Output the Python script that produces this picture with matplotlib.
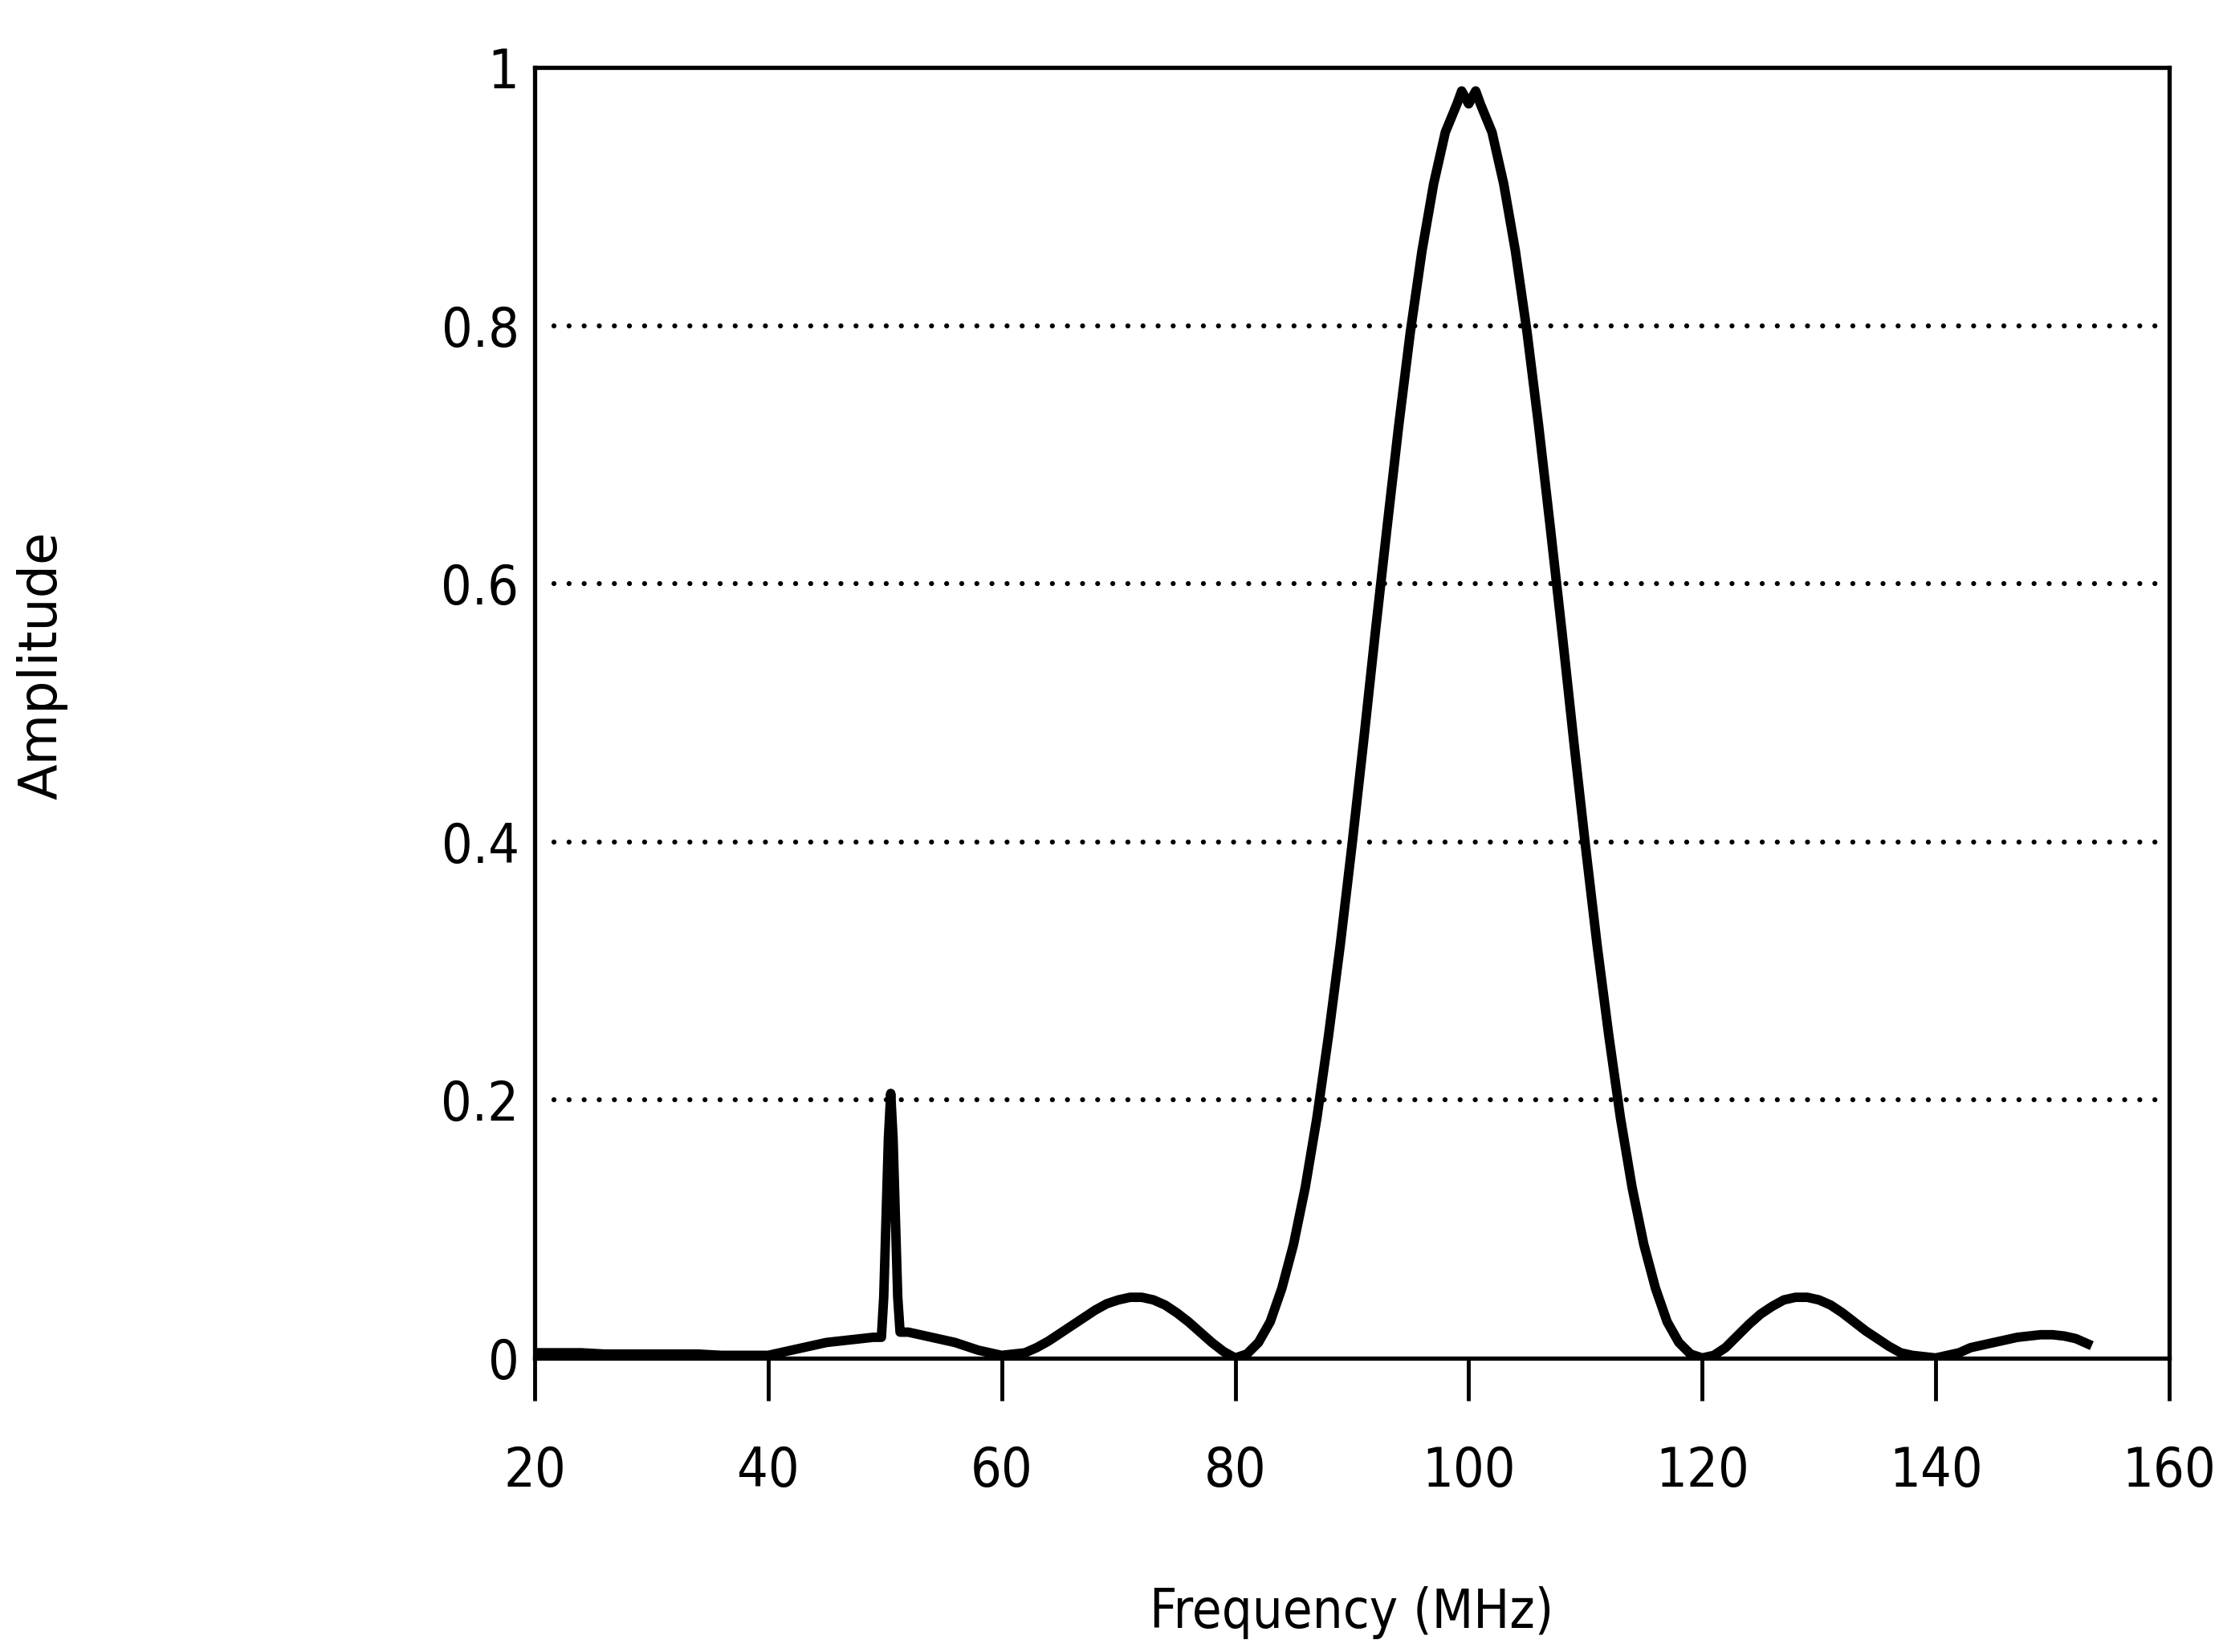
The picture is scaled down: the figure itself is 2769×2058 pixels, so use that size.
import matplotlib
matplotlib.use('Agg')
import matplotlib.pyplot as plt

# values
freq = [20, 22, 24, 26, 28, 30, 32, 34, 36, 38, 40,
        41, 42, 43, 44, 45, 46, 47, 48, 49, 49.7,
        49.9, 50.1, 50.3, 50.5, 50.7, 50.9, 51.1, 51.3,
        52, 53, 54, 55, 56, 57, 58, 59, 60,
        61, 62, 63, 64, 65, 66, 67, 68, 69, 70,
        71, 72, 73, 74, 75, 76, 77, 78, 79, 80,
        81, 82, 83, 84, 85, 86, 87, 88, 89, 90,
        91, 92, 93, 94, 95, 96, 97, 98, 99, 99.4,
        100, 100.6, 101, 102, 103, 104, 105, 106, 107, 108,
        109, 110, 111, 112, 113, 114, 115, 116, 117, 118,
        119, 120, 121, 122, 123, 124, 125, 126, 127, 128,
        129, 130, 131, 132, 133, 134, 135, 136, 137, 138,
        139, 140, 141, 142, 143, 144, 145, 146, 147, 148,
        149, 150, 151, 152, 153]
amplitude = [0.004, 0.004, 0.004, 0.003, 0.003, 0.003, 0.003, 0.003, 0.002, 0.002, 0.002,
             0.004, 0.006, 0.008, 0.010, 0.012, 0.013, 0.014, 0.015, 0.016, 0.016,
             0.047, 0.108, 0.170, 0.205, 0.170, 0.108, 0.047, 0.020,
             0.020, 0.018, 0.016, 0.014, 0.012, 0.009, 0.006, 0.004, 0.002,
             0.003, 0.004, 0.008, 0.013, 0.019, 0.025, 0.031, 0.037, 0.042, 0.045,
             0.047, 0.047, 0.045, 0.041, 0.035, 0.028, 0.020, 0.012, 0.005, 0.000,
             0.003, 0.012, 0.028, 0.054, 0.088, 0.132, 0.186, 0.250, 0.320, 0.397,
             0.478, 0.562, 0.643, 0.722, 0.795, 0.858, 0.910, 0.950, 0.972, 0.982,
             0.972, 0.982, 0.972, 0.950, 0.910, 0.858, 0.795, 0.722, 0.643, 0.562,
             0.478, 0.397, 0.320, 0.250, 0.186, 0.132, 0.088, 0.054, 0.028, 0.012,
             0.003, 0.000, 0.002, 0.008, 0.017, 0.026, 0.034, 0.040, 0.045, 0.047,
             0.047, 0.045, 0.041, 0.035, 0.028, 0.021, 0.015, 0.009, 0.004, 0.002,
             0.001, 0.000, 0.002, 0.004, 0.008, 0.010, 0.012, 0.014, 0.016, 0.017,
             0.018, 0.018, 0.017, 0.015, 0.011]

x_ticks = [20, 40, 60, 80, 100, 120, 140, 160]
y_ticks = [0, 0.2, 0.4, 0.6, 0.8, 1]
y_tick_labels = ['0', '0.2', '0.4', '0.6', '0.8', '1']
grid_levels = [0.2, 0.4, 0.6, 0.8]

tick_font = dict(family='DejaVu Sans', stretch='condensed', fontsize=49)

fig = plt.figure(figsize=(27.69, 20.58), dpi=100)
ax = fig.add_axes([0.2405, 0.178, 0.7353, 0.781])

for lvl in grid_levels:
    ax.axhline(lvl, xmin=0.012, xmax=1, color='black', lw=4.5,
               linestyle=(0, (0.01, 3.0)), dash_capstyle='round', zorder=1)

ax.plot(freq, amplitude, color='black', lw=8.5, solid_joinstyle='round', zorder=3)

ax.set_xlim(20, 160)
ax.set_ylim(0, 1)
for s in ax.spines.values():
    s.set_linewidth(3.8)

ax.set_xticks(x_ticks)
ax.set_xticklabels([str(t) for t in x_ticks], **tick_font)
ax.set_yticks(y_ticks)
ax.set_yticklabels(y_tick_labels, **tick_font)
ax.tick_params(axis='x', direction='out', length=38, width=3.5, pad=40)
ax.tick_params(axis='y', length=0, pad=14)

fig.text(0.019, 0.597, 'Amplitude', rotation=90, ha='center', va='center',
         family='DejaVu Sans', fontsize=47)
fig.text(0.608, 0.024, 'Frequency (MHz)', ha='center', va='center',
         family='DejaVu Sans', stretch='condensed', fontsize=48)

fig.savefig('out.png', dpi=100)
